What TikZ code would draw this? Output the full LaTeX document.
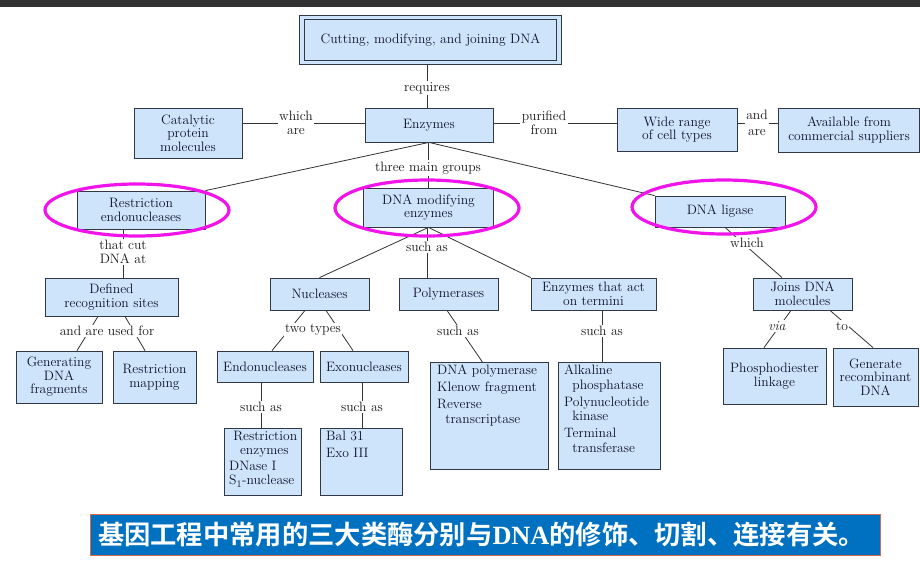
\documentclass[tikz,border=0pt]{standalone}
\usepackage{fontspec}
\newfontfamily\cjk{Noto Sans CJK SC Bold}
\newfontfamily\timesbf{Liberation Serif}
\usepackage{xcolor}
\usepackage{tikz}
\usetikzlibrary{positioning, backgrounds}

\definecolor{boxfill}{RGB}{206,228,250}
\definecolor{boxline}{RGB}{50,55,70}
\definecolor{inkblue}{RGB}{15,18,45}
\definecolor{ringpink}{RGB}{240,20,235}
\definecolor{bannerblue}{RGB}{0,112,192}
\definecolor{bannerrim}{RGB}{225,105,65}
\definecolor{topbar}{RGB}{50,50,50}

\begin{document}
\begin{tikzpicture}[x=1pt, y=-1pt, font=\fontsize{13.6}{13.6}\selectfont,
    cbox/.style={draw=boxline, fill=boxfill, text=inkblue, align=center, inner sep=2pt, line width=0.8pt},
    listbox/.style={cbox, anchor=north west},
    listtxt/.style={anchor=north west, align=left, text=inkblue, inner sep=0pt,
                    font=\fontsize{13.6}{14.5}\selectfont},
    lbl/.style={fill=white, text=black!90, align=center, inner sep=1.5pt},
    link/.style={draw=black!80, line width=0.8pt},
    ring/.style={draw=ringpink, line width=3.2pt},
    banner/.style={draw=bannerrim, fill=bannerblue, text=white, line width=0.8pt,
                   text width=774pt, align=left, inner xsep=8pt, inner ysep=0pt, minimum height=41pt,
                   font=\fontsize{26.3}{27}\selectfont}]

    % Frame
    \useasboundingbox (0,0) rectangle (920,575);
    \fill[topbar] (0,0) rectangle (920,7);

    % Nodes
    \node[cbox, double=boxfill, double distance=3.5pt, minimum width=257pt, minimum height=45pt] (title) at (430.5,40) {Cutting, modifying, and joining DNA};
    \node[cbox, minimum width=128pt, minimum height=34pt] (enz) at (429,125) {Enzymes};
    \node[cbox, minimum width=108pt, minimum height=50pt] (cat) at (188,133) {Catalytic\\protein\\molecules};
    \node[cbox, minimum width=120pt, minimum height=43pt] (wide) at (677,129.5) {Wide range\\of cell types};
    \node[cbox, minimum width=141pt, minimum height=44pt] (avail) at (849,130) {Available from\\commercial suppliers};

    \node[cbox, minimum width=128pt, minimum height=38pt] (restr) at (141,210) {Restriction\\endonucleases};
    \node[cbox, minimum width=130pt, minimum height=39pt] (dme) at (428.5,207.5) {DNA modifying\\enzymes};
    \node[cbox, minimum width=130pt, minimum height=31pt] (lig) at (720,211.5) {DNA ligase};

    \node[cbox, minimum width=133pt, minimum height=38pt] (def) at (111.5,297) {Defined\\recognition sites};
    \node[cbox, minimum width=86pt, minimum height=52pt] (gen) at (59,377) {Generating\\DNA\\fragments};
    \node[cbox, minimum width=83pt, minimum height=52pt] (rmap) at (154.5,377) {Restriction\\mapping};

    \node[cbox, minimum width=99pt, minimum height=32pt] (nucl) at (319.5,294) {Nucleases};
    \node[cbox, minimum width=96pt, minimum height=31pt] (endo) at (265,366.5) {Endonucleases};
    \node[cbox, minimum width=88pt, minimum height=31pt] (exo) at (364,366.5) {Exonucleases};
    \node[cbox, minimum width=99pt, minimum height=32pt] (poly) at (448.5,294) {Polymerases};
    \node[cbox, minimum width=125pt, minimum height=32pt] (term) at (593.5,294) {Enzymes that act\\on termini};

    \node[cbox, minimum width=99pt, minimum height=32pt] (joins) at (802.5,294) {Joins DNA\\molecules};
    \node[cbox, minimum width=103pt, minimum height=56pt] (phos) at (774.5,376) {Phosphodiester\\linkage};
    \node[cbox, minimum width=85pt, minimum height=58pt] (recomb) at (875.5,377) {Generate\\recombinant\\DNA};

    % List boxes
    \node[listbox, minimum width=77pt, minimum height=67pt] (restenz) at (224,428) {};
    \node[listtxt] (restenztx) at (229,431) {\hspace*{0.3em}Restriction\\\hspace*{0.8em}enzymes\\[1pt]DNase I\\S$_1$-nuclease};
    \node[listbox, minimum width=82pt, minimum height=67pt] (bal) at (320,428) {};
    \node[listtxt] (baltx) at (326,431) {Bal 31\\[2.5pt]Exo III};
    \node[listbox, minimum width=118pt, minimum height=107pt] (polylist) at (430,362) {};
    \node[listtxt] (polylisttx) at (437,365) {DNA polymerase\\[2.5pt]Klenow fragment\\[2.5pt]Reverse\\\hspace*{0.6em}transcriptase};
    \node[listbox, minimum width=102pt, minimum height=107pt] (termlist) at (558,362) {};
    \node[listtxt] (termlisttx) at (564,365) {Alkaline\\\hspace*{0.6em}phosphatase\\[2.5pt]Polynucleotide\\\hspace*{0.6em}kinase\\[2.5pt]Terminal\\\hspace*{0.6em}transferase};

    % Link labels
    \node[lbl] (req) at (427,88) {requires};
    \node[lbl] (whichare) at (296,123) {which\\are};
    \node[lbl] (purif) at (544,123) {purified\\from};
    \node[lbl] (andare) at (757,123) {and\\[3pt]are};
    \node[lbl] (three) at (428,168) {three main groups};
    \node[lbl] (cut) at (123,252) {that cut\\DNA at};
    \node[lbl] (usedfor) at (107,331) {and are used for};
    \node[lbl] (suchdme) at (427,247) {such as};
    \node[lbl] (twotypes) at (313,330) {two types};
    \node[lbl] (suchpoly) at (458,331) {such as};
    \node[lbl] (suchterm) at (602,331) {such as};
    \node[lbl] (suchendo) at (261,407) {such as};
    \node[lbl] (suchexo) at (362,407) {such as};
    \node[lbl] (which) at (747,243) {which};
    \node[lbl] (via) at (777,326) {\textit{via}};
    \node[lbl] (to) at (842,326) {to};

    % Highlight rings
    \draw[ring] (137,210) ellipse [x radius=92pt, y radius=26pt];
    \draw[ring] (427,208) ellipse [x radius=92pt, y radius=28pt];
    \draw[ring] (724,207) ellipse [x radius=92pt, y radius=27pt];

    % Note
    \node[banner] (note) at (485,534.5) {\cjk 基因工程中常用的三大类酶分别与{\timesbf\bfseries DNA}的修饰、切割、连接有关。};

    % Connections
    \begin{scope}[on background layer]
        \fill[white] (0,7) rectangle (920,575);
        \draw[link] (req |- title.south) -- (req |- enz.north);
        \draw[link] (cat.east |- whichare) -- (enz.west |- whichare);
        \draw[link] (enz.east |- purif) -- (wide.west |- purif);
        \draw[link] (wide.east |- andare) -- (avail.west |- andare);
        \draw[link] (three |- enz.south) -- (three |- dme.north);
        \draw[link] (enz.south) -- (restr.north east);
        \draw[link] (enz.south) -- (lig.north west);
        \draw[link] (cut |- restr.south) -- (cut |- def.north);
        \draw[link] ([xshift=-13.5pt]def.south) -- ([xshift=18pt]gen.north);
        \draw[link] ([xshift=13.5pt]def.south) -- ([xshift=-9.5pt]rmap.north);
        \draw[link] (dme.south) -- (nucl.north);
        \draw[link] (suchdme |- dme.south) -- (suchdme |- poly.north);
        \draw[link] (dme.south) -- (term.north west);
        \draw[link] ([xshift=-14.5pt]nucl.south) -- ([xshift=7pt]endo.north);
        \draw[link] ([xshift=6.5pt]nucl.south) -- ([xshift=-11pt]exo.north);
        \draw[link] (suchendo |- endo.south) -- (suchendo |- restenz.north);
        \draw[link] (suchexo |- exo.south) -- (suchexo |- bal.north);
        \draw[link] ([xshift=-1.5pt]poly.south) -- ([xshift=-7pt]polylist.north);
        \draw[link] (suchterm |- term.south) -- (suchterm |- termlist.north);
        \draw[link] ([xshift=5pt]lig.south) -- ([xshift=-20.5pt]joins.north);
        \draw[link] ([xshift=-11.5pt]joins.south) -- ([xshift=-10.5pt]phos.north);
        \draw[link] ([xshift=27.5pt]joins.south) -- ([xshift=-2.5pt]recomb.north);
    \end{scope}
\end{tikzpicture}
\end{document}
